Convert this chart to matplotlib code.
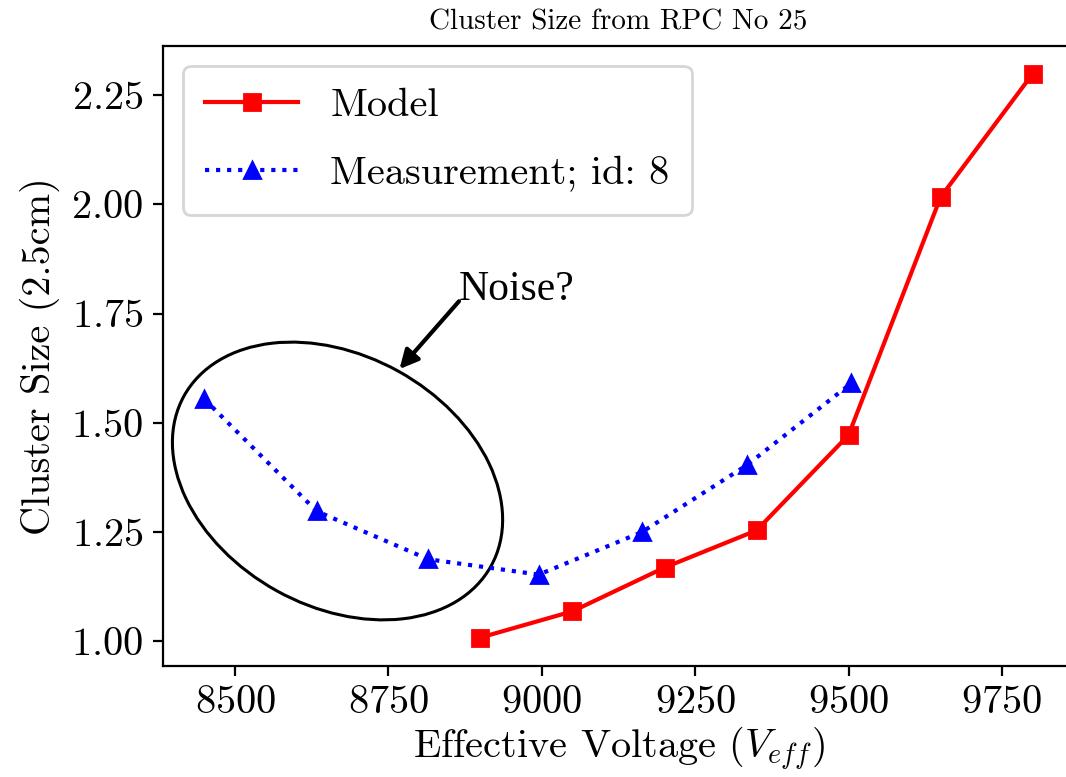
import matplotlib
matplotlib.use('Agg')
import matplotlib.pyplot as plt
import matplotlib.transforms as mtransforms
from matplotlib.patches import Ellipse

# values
model_v = [8900, 9050, 9200, 9350, 9500, 9650, 9800]
model_cs = [1.009, 1.069, 1.169, 1.254, 1.472, 2.016, 2.298]
meas_v = [8450, 8633, 8815, 8995, 9163, 9334, 9504]
meas_cs = [1.554, 1.298, 1.188, 1.153, 1.250, 1.403, 1.590]

plt.rcParams['font.family'] = 'cmr10'
plt.rcParams['mathtext.fontset'] = 'cm'
plt.rcParams['axes.formatter.use_mathtext'] = True

fig = plt.figure(figsize=(5.33, 3.885), dpi=200)
ax = fig.add_axes([0.1529, 0.1432, 0.8546, 0.798])

ax.plot(model_v, model_cs, 'rs-', label='Model')
ax.plot(meas_v, meas_cs, 'b^:', label='Measurement; id: 8')

# ellipse drawn in inches around a data-space centre
trans = fig.dpi_scale_trans + mtransforms.ScaledTranslation(8667, 1.367, ax.transData)
ell = Ellipse((0, 0), 1.755, 1.255, angle=-29, transform=trans,
              fill=False, edgecolor='black', lw=1.1)
ax.add_patch(ell)

ax.annotate('', xy=(8768, 1.623), xytext=(8865, 1.778),
            arrowprops=dict(arrowstyle='-|>', color='black', lw=1.5,
                            mutation_scale=14, shrinkA=0, shrinkB=0))
ax.text(8865, 1.781, 'Noise?', family='Liberation Serif', fontsize=15,
        ha='left', va='baseline')

ax.set_title('Cluster Size from RPC No 25', fontsize=10.5)
ax.set_xlabel(r'Effective Voltage $(V_{eff})$', fontsize=14.5, labelpad=1.5)
ax.set_ylabel('Cluster Size (2.5cm)', fontsize=14.5)
ax.tick_params(labelsize=14.5)
ax.legend(loc='upper left', fontsize=14.5, handlelength=2.3,
          labelspacing=0.8, borderpad=0.55)

fig.savefig('out.png', dpi=200)
